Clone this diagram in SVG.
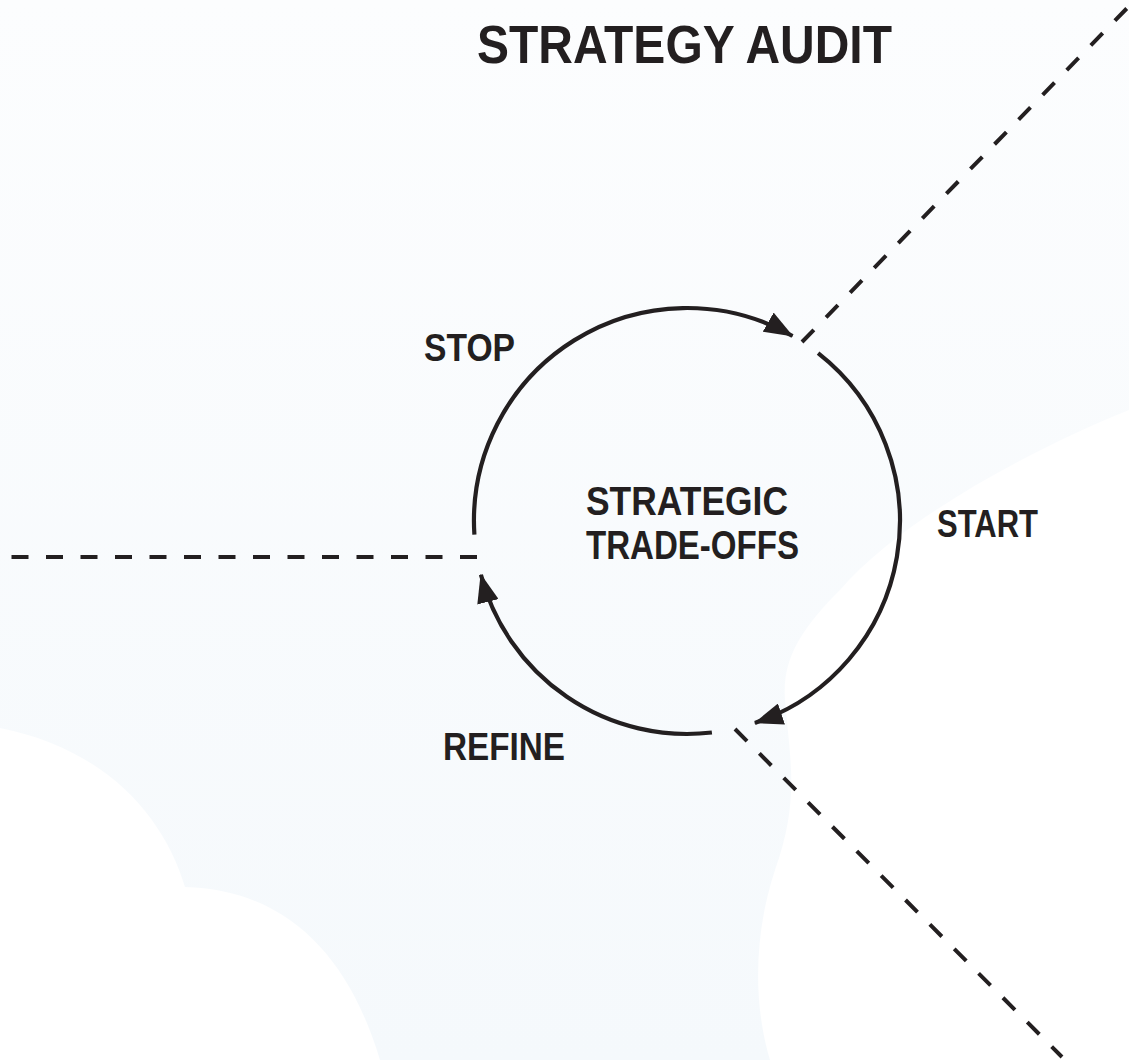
<svg xmlns="http://www.w3.org/2000/svg" width="1129" height="1060" viewBox="0 0 1129 1060">
  <defs>
    <style>
      .arc { fill: none; stroke: #231f20; stroke-width: 4.2; }
      .dash { fill: none; stroke: #231f20; stroke-width: 4; stroke-dasharray: 17 17.5; }
      .lbl { font-family: "Liberation Sans", Arial, sans-serif; font-weight: bold; fill: #231f20; }
    </style>
    <linearGradient id="bgfade" x1="0" y1="0" x2="0" y2="1">
      <stop offset="0" stop-color="#fcfdfe"/>
      <stop offset="1" stop-color="#f5f9fc"/>
    </linearGradient>
    <marker id="arrow" markerUnits="userSpaceOnUse" viewBox="0 0 29 22" refX="28" refY="11" markerWidth="29" markerHeight="22" orient="auto">
      <path d="M0,0 L29,11 L0,22 Z" fill="#231f20"/>
    </marker>
  </defs>

  <rect width="1129" height="1060" fill="#ffffff"/>
  <g id="background">
    <path d="M0,0 H1129 V410 C1030,450 900,520 840,590 C800,630 782,660 785,700 C790,760 800,800 775,870 C755,930 752,1000 770,1060 H380 C350,960 290,890 185,887 C165,820 110,750 0,728 Z" fill="url(#bgfade)"/>
  </g>

  <g id="connectors">
    <path class="dash" d="M477,557 H0"/>
    <path class="dash" d="M802,342 L1135,0"/>
    <path class="dash" d="M735,729 L1062,1057"/>
    <path class="arc" d="M474.4,534.7 A213,213 0 0 1 792.5,336" marker-end="url(#arrow)"/>
    <path class="arc" d="M818.1,353.2 A213,213 0 0 1 754.9,722.9" marker-end="url(#arrow)"/>
    <path class="arc" d="M711.9,732.5 A213,213 0 0 1 480.9,574.7" marker-end="url(#arrow)"/>
  </g>

  <g id="title">
    <text class="lbl" x="477" y="63" font-size="53" textLength="415" lengthAdjust="spacingAndGlyphs">STRATEGY AUDIT</text>
  </g>
  <g id="node-center">
    <text class="lbl" x="586" y="515" font-size="41" textLength="202" lengthAdjust="spacingAndGlyphs">STRATEGIC</text>
    <text class="lbl" x="586" y="559" font-size="41" textLength="213" lengthAdjust="spacingAndGlyphs">TRADE-OFFS</text>
  </g>
  <g id="node-stop">
    <text class="lbl" x="424" y="361" font-size="39" textLength="91" lengthAdjust="spacingAndGlyphs">STOP</text>
  </g>
  <g id="node-start">
    <text class="lbl" x="937" y="537" font-size="39" textLength="101" lengthAdjust="spacingAndGlyphs">START</text>
  </g>
  <g id="node-refine">
    <text class="lbl" x="443" y="760" font-size="39" textLength="122" lengthAdjust="spacingAndGlyphs">REFINE</text>
  </g>
</svg>
